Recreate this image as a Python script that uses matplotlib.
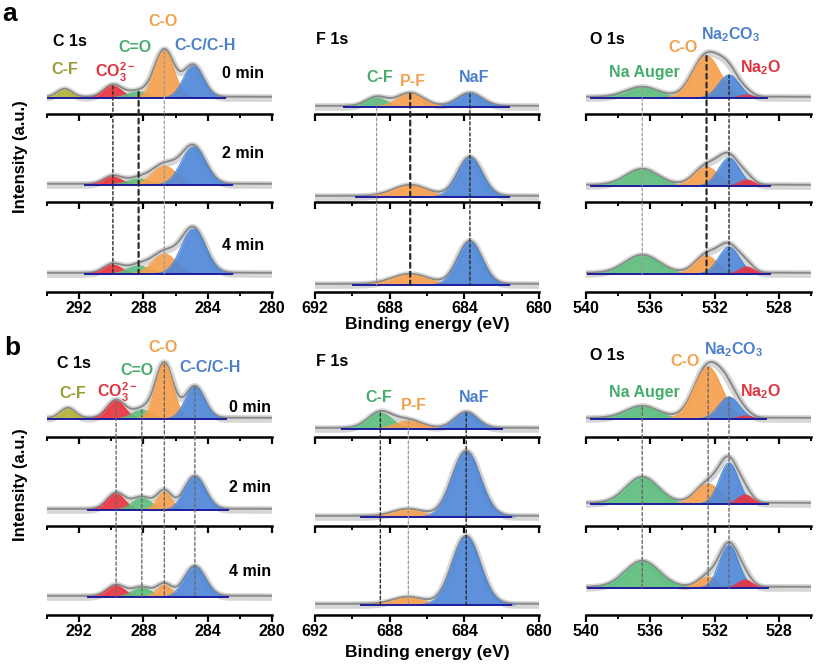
import matplotlib
matplotlib.use("Agg")
import matplotlib.pyplot as plt
import numpy as np
from matplotlib.patches import ConnectionPatch
from matplotlib.ticker import MultipleLocator

plt.rcParams["font.family"] = ["Liberation Sans", "DejaVu Sans"]
plt.rcParams["font.weight"] = "bold"
plt.rcParams["mathtext.fontset"] = "custom"
plt.rcParams["mathtext.rm"] = "Liberation Sans:bold"
plt.rcParams["mathtext.it"] = "Liberation Sans:bold"
plt.rcParams["mathtext.bf"] = "Liberation Sans:bold"

TIMES = ["0 min", "2 min", "4 min"]

C1S_LABELS = ["C-F", "CO$_3^{2-}$", "C=O", "C-O", "C-C/C-H"]
F1S_LABELS = ["C-F", "P-F", "NaF"]
O1S_LABELS = ["Na Auger", "C-O", "Na$_2$CO$_3$", "Na$_2$O"]

C1S_XLIM = (294, 280)
F1S_XLIM = (692, 680)
O1S_XLIM = (540, 526)

# panel a: peak centres (eV), heights (a.u.) and widths (eV) for 0 / 2 / 4 min
A_C1S_CENTER = [292.9, 289.9, 288.3, 286.7, 284.9]
A_C1S_HEIGHT = [[8, 12, 6, 47, 32], [0, 8, 6, 19, 38], [0, 9, 8, 20, 45]]
A_C1S_SIGMA = [[0.45, 0.55, 0.7, 0.6, 0.62],
               [0.45, 0.55, 0.7, 0.75, 0.75],
               [0.45, 0.55, 0.7, 0.75, 0.75]]

A_F1S_CENTER = [688.7, 686.9, 683.7]
A_F1S_HEIGHT = [[9, 13, 13], [0, 11, 39], [0, 10, 43]]
A_F1S_SIGMA = [[0.55, 0.7, 0.65], [0.55, 0.9, 0.65], [0.55, 0.95, 0.65]]

A_O1S_CENTER = [536.5, 532.5, 531.1, 530.0]
A_O1S_HEIGHT = [[10, 42, 23, 3], [16, 19, 28, 6], [18, 18, 27, 7]]
A_O1S_SIGMA = [[1.0, 0.85, 0.65, 0.4], [1.0, 0.75, 0.65, 0.45],
               [1.05, 0.7, 0.65, 0.45]]

# panel b
B_C1S_CENTER = [292.7, 289.7, 288.1, 286.7, 284.8]
B_C1S_HEIGHT = [[10, 18, 9, 55, 32], [0, 16, 12, 18, 33], [0, 11, 9, 12, 30]]
B_C1S_SIGMA = [[0.45, 0.55, 0.6, 0.55, 0.6],
               [0.45, 0.55, 0.6, 0.45, 0.65],
               [0.45, 0.55, 0.6, 0.45, 0.65]]

B_F1S_CENTER = [688.5, 687.0, 683.9]
B_F1S_HEIGHT = [[16, 8, 16], [0, 7, 65], [0, 7, 68]]
B_F1S_SIGMA = [[0.65, 0.7, 0.6], [0.65, 0.8, 0.75], [0.65, 0.8, 0.75]]

B_O1S_CENTER = [536.5, 532.4, 531.1, 530.1]
B_O1S_HEIGHT = [[12, 52, 22, 3], [26, 20, 41, 9], [26, 11, 43, 8]]
B_O1S_SIGMA = [[1.0, 0.85, 0.65, 0.4], [1.0, 0.75, 0.6, 0.45],
               [1.05, 0.6, 0.6, 0.45]]

# colours
OLIVE = "#b3b23c"
RED = "#e8343e"
GREEN = "#5dbd7d"
ORANGE = "#f6a04d"
BLUE = "#4f88d8"
C1S_COLORS = [OLIVE, RED, GREEN, ORANGE, BLUE]
F1S_COLORS = [GREEN, ORANGE, BLUE]
O1S_COLORS = [GREEN, ORANGE, BLUE, RED]
TEXT_COLORS = {OLIVE: "#9d9b35", RED: "#df3440", GREEN: "#45ad6c",
               ORANGE: "#f0a24e", BLUE: "#4c80cc"}

DASH = {"dark": ("#2b2b2b", 1.0), "bold": ("#2b2b2b", 1.6),
        "light": ("#9a9a9a", 0.9), "mid": ("#6a6a6a", 1.0)}

W, H = 819, 664
COL_X = [(47, 272), (315, 539), (586, 811)]
AXIS_Y = {"a": [114, 202, 292], "b": [437, 526, 615]}
ROW_H = 88
GAP = {"a": [[16, 17, 18], [7, 5, 7], [16, 16, 18]],
       "b": [[18, 16, 18], [8, 9, 10], [18, 22, 27]]}

fig = plt.figure(figsize=(W / 100, H / 100), dpi=100)


def fx(px):
    return px / W


def fy(py):
    return 1 - py / H


def txt(x, y, s, color="black", size=11.5, **kw):
    fig.text(fx(x), fy(y), s, color=color, fontsize=size, fontweight="bold",
             ha="center", va="center", **kw)


def draw_stack(panel, col, xlim, centers, heights, sigmas, colors, dashes):
    x0, x1 = COL_X[col]
    axes = []
    for row in range(3):
        ybot = AXIS_Y[panel][row]
        gap = GAP[panel][col][row]
        ax = fig.add_axes([fx(x0), fy(ybot), (x1 - x0) / W, ROW_H / H])
        ax.set_xlim(xlim)
        ax.set_ylim(-gap, ROW_H - gap)
        ax.patch.set_alpha(0)
        for s in ("top", "left", "right"):
            ax.spines[s].set_visible(False)
        ax.spines["bottom"].set_linewidth(1.8)
        ax.set_yticks([])
        ax.xaxis.set_major_locator(MultipleLocator(4))
        ax.xaxis.set_minor_locator(MultipleLocator(2))
        ax.tick_params(axis="x", which="major", direction="out", length=5,
                       width=1.6, labelsize=11.5, pad=1.5)
        ax.tick_params(axis="x", which="minor", direction="out", length=3,
                       width=1.4)
        if row < 2:
            ax.tick_params(labelbottom=False)

        x = np.linspace(min(xlim), max(xlim), 800)
        total = np.zeros_like(x)
        lo, hi = [], []
        for c, h, sg, colr in zip(centers, heights[row], sigmas[row], colors):
            if h <= 0:
                continue
            y = h * np.exp(-0.5 * ((x - c) / sg) ** 2)
            total += y
            m = y > 0.15
            ax.fill_between(x[m], 0, y[m], color=colr, alpha=0.92, lw=0,
                            zorder=2)
            ax.plot(x[m], y[m], color=colr, lw=0.8, zorder=2)
            lo.append(c - 3.2 * sg)
            hi.append(c + 3.2 * sg)
        ax.plot(x, total, color="#d6d6d6", lw=5.5, zorder=1,
                solid_capstyle="round")
        ax.plot(x, total + 1.2, color="#8a8a8a", lw=1.4, zorder=1.5)
        ax.plot([min(lo), max(hi)], [0, 0], color="#1d1d9e", lw=1.4, zorder=3)
        axes.append(ax)

    for idx, style in dashes:
        colr, lw = DASH[style]
        c = centers[idx]
        top = heights[0][idx]
        con = ConnectionPatch(xyA=(c, top), coordsA=axes[0].transData,
                              xyB=(c, 0), coordsB=axes[2].transData,
                              color=colr, lw=lw, linestyle=(0, (2.2, 1.8)),
                              zorder=6)
        fig.add_artist(con)
    return axes


# panel a
draw_stack("a", 0, C1S_XLIM, A_C1S_CENTER, A_C1S_HEIGHT, A_C1S_SIGMA,
           C1S_COLORS, [(1, "dark"), (2, "bold"), (3, "light")])
draw_stack("a", 1, F1S_XLIM, A_F1S_CENTER, A_F1S_HEIGHT, A_F1S_SIGMA,
           F1S_COLORS, [(0, "light"), (1, "bold"), (2, "dark")])
draw_stack("a", 2, O1S_XLIM, A_O1S_CENTER, A_O1S_HEIGHT, A_O1S_SIGMA,
           O1S_COLORS, [(0, "light"), (1, "bold"), (2, "dark")])
# panel b
draw_stack("b", 0, C1S_XLIM, B_C1S_CENTER, B_C1S_HEIGHT, B_C1S_SIGMA,
           C1S_COLORS, [(1, "mid"), (2, "mid"), (3, "mid"), (4, "mid")])
draw_stack("b", 1, F1S_XLIM, B_F1S_CENTER, B_F1S_HEIGHT, B_F1S_SIGMA,
           F1S_COLORS, [(0, "dark"), (1, "light"), (2, "dark")])
draw_stack("b", 2, O1S_XLIM, B_O1S_CENTER, B_O1S_HEIGHT, B_O1S_SIGMA,
           O1S_COLORS, [(0, "mid"), (1, "mid"), (2, "mid")])

# panel letters, axis titles
txt(10, 14, "a", size=19)
txt(12, 348, "b", size=19)
for yc in (157, 485):
    txt(21, yc, "Intensity (a.u.)", size=12, rotation=90)
txt(427, 324, "Binding energy (eV)", size=12.5)
txt(427, 653, "Binding energy (eV)", size=12.5)

# region / component labels
label_pos = {
    "a": {"C": [(65, 70), (115, 72), (135, 48), (163, 22), (205, 45)],
          "F": [(380, 77), (413, 81), (474, 78)],
          "O": [(644, 73), (683, 48), (731, 35), (761, 68)],
          "title": [(70, 42), (332, 40), (607, 40)],
          "min": [(243, 73), (243, 153), (243, 246)]},
    "b": {"C": [(73, 393), (117, 392), (137, 370), (163, 348), (210, 367)],
          "F": [(379, 397), (414, 405), (474, 397)],
          "O": [(644, 392), (685, 362), (734, 350), (761, 392)],
          "title": [(74, 363), (332, 362), (607, 355)],
          "min": [(250, 408), (250, 487), (250, 571)]},
}
for p, pos in label_pos.items():
    for (x, y), s in zip(pos["title"], ["C 1s", "F 1s", "O 1s"]):
        txt(x, y, s, size=11.5)
    for (x, y), s in zip(pos["min"], TIMES):
        txt(x, y, s, size=11.5)
    for (x, y), s, c in zip(pos["C"], C1S_LABELS, C1S_COLORS):
        txt(x, y, s, color=TEXT_COLORS[c])
    for (x, y), s, c in zip(pos["F"], F1S_LABELS, F1S_COLORS):
        txt(x, y, s, color=TEXT_COLORS[c])
    for (x, y), s, c in zip(pos["O"], O1S_LABELS, O1S_COLORS):
        txt(x, y, s, color=TEXT_COLORS[c])

fig.savefig("out.png", dpi=100)
